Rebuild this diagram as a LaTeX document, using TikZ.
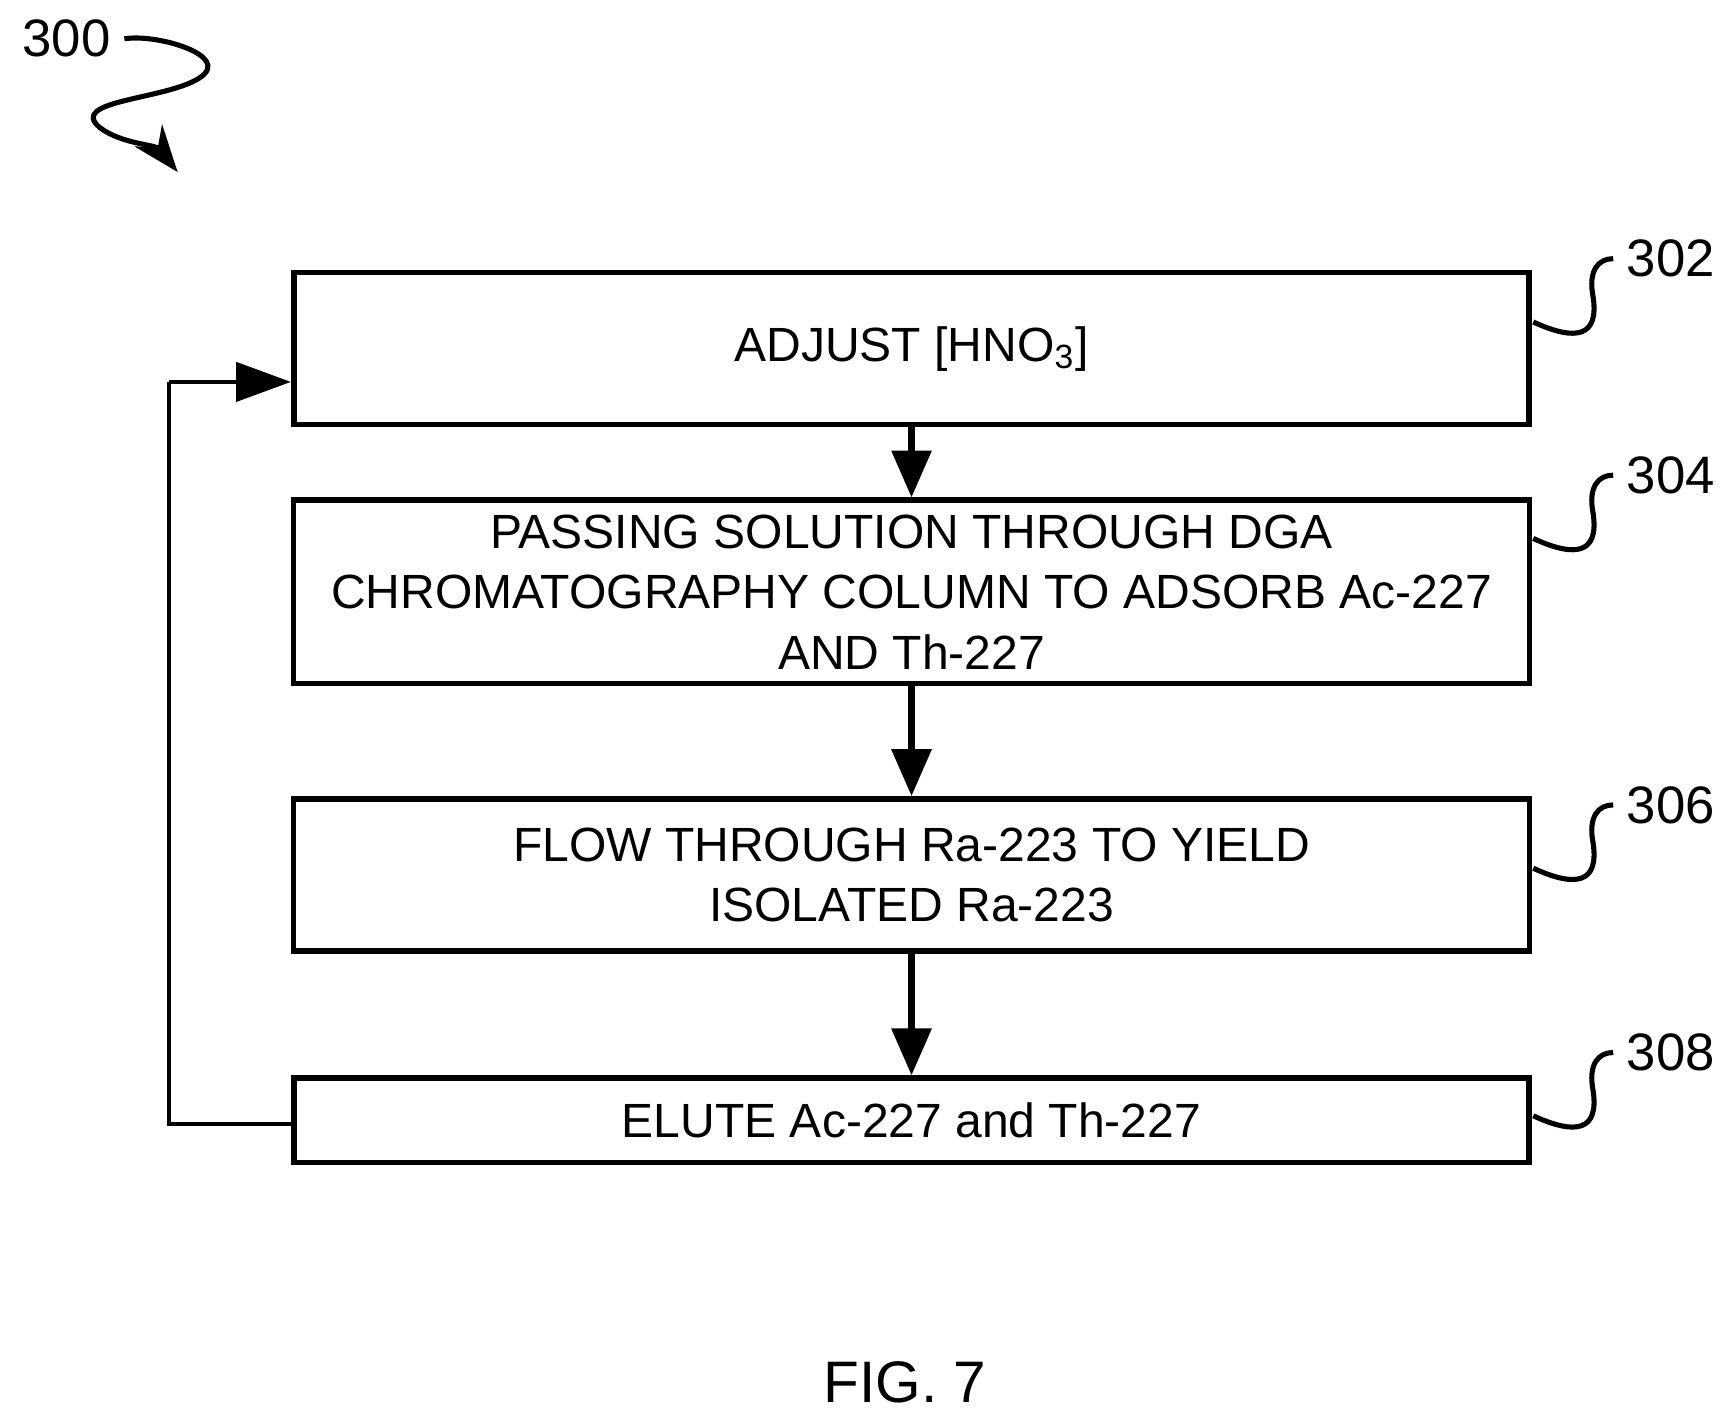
\documentclass[tikz,border=0pt]{standalone}
\usepackage{fontspec}
\setmainfont{Liberation Sans}
\usetikzlibrary{arrows.meta}
\begin{document}
\begin{tikzpicture}[x=0.01cm,y=-0.01cm,
  box/.style={draw,line width=1.4pt,inner sep=0pt,align=center,font=\fontsize{12.3}{15.5}\selectfont},
  arr/.style={line width=1.6pt,-{Triangle[length=12pt,width=10pt]}},
  lbl/.style={font=\fontsize{13.5}{16}\selectfont}]
\useasboundingbox (0,0) rectangle (1560,1274);
\node[box,minimum width=11.12cm,minimum height=1.37cm] (b302) at (821,314) {ADJUST [HNO\textsubscript{3}]};
\node[box,minimum width=11.13cm,minimum height=1.65cm] (b304) at (821,533) {PASSING SOLUTION THROUGH DGA\\CHROMATOGRAPHY COLUMN TO ADSORB Ac-227\\AND Th-227};
\node[box,minimum width=11.13cm,minimum height=1.37cm] (b306) at (821,788) {FLOW THROUGH Ra-223 TO YIELD\\ISOLATED Ra-223};
\node[box,minimum width=11.12cm,minimum height=0.76cm] (b308) at (821,1009) {ELUTE Ac-227 and Th-227};
\draw[arr] (b302.south) -- (b304.north);
\draw[arr] (b304.south) -- (b306.north);
\draw[arr] (b306.south) -- (b308.north);
\coordinate (c1) at (152,1012);
\coordinate (c2) at (152,344);
\coordinate (t302) at (262,344);
\draw[line width=1pt] (c1 -| b308.west) -- (c1) -- (c2);
\draw[line width=1pt,-{Triangle[length=14pt,width=10pt]}] (c2) -- (t302);
\foreach \n/\y in {302/233,304/428,306/725,308/948}{
  \node[lbl] (l\n) at (1505,\y) {\n};
  \draw[line width=1.3pt] (1381,\y+57) .. controls (1420,\y+75) and (1440,\y+70) .. (1435,\y+35)
     .. controls (1430,\y+10) and (1440,\y) .. (l\n.west);
}
\node[lbl] (l300) at (60,35) {300};
\coordinate (a300) at (160,155);
\draw[line width=1.3pt,-{Stealth[length=12pt,width=9pt]}] (l300.east) .. controls (140,30) and (210,50) .. (180,70)
  .. controls (150,90) and (60,90) .. (90,115) .. controls (110,130) and (140,130) .. (a300);
\node[font=\fontsize{15}{18}\selectfont] (fig) at (815,1245) {FIG. 7};
\end{tikzpicture}
\end{document}
